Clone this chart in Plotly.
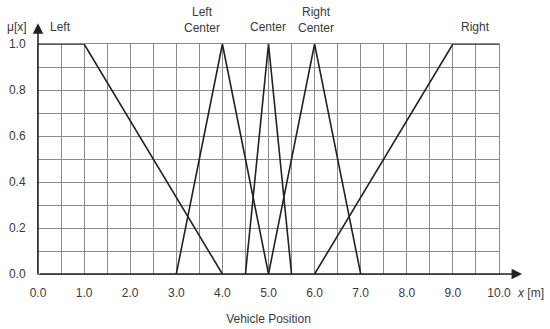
import plotly.graph_objects as go

# Membership functions (breakpoints)
left_x = [0, 1, 4]
left_y = [1, 1, 0]
lc_x = [3, 4, 5]
lc_y = [0, 1, 0]
c_x = [4.5, 5, 5.5]
c_y = [0, 1, 0]
rc_x = [5, 6, 7]
rc_y = [0, 1, 0]
right_x = [6, 9, 10]
right_y = [0, 1, 1]

x_ticks = [0, 1, 2, 3, 4, 5, 6, 7, 8, 9, 10]
x_labels = ["0.0", "1.0", "2.0", "3.0", "4.0", "5.0", "6.0", "7.0", "8.0", "9.0", "10.0"]
y_ticks = [0, 0.2, 0.4, 0.6, 0.8, 1.0]
y_labels = ["0.0", "0.2", "0.4", "0.6", "0.8", "1.0"]

# set labels: (text, x in data units, y in data units)
labels = [("Left", 0.48, 1.072), ("Left<br>Center", 3.56, 1.103), ("Center", 4.99, 1.072),
          ("Right<br>Center", 6.04, 1.103), ("Right", 9.5, 1.072)]

X_MAX = 10.0
FONT = "Liberation Sans, Arial, sans-serif"
TXT = "#3a3a3a"
GRID = "#8a8a8a"
FS = 12

fig = go.Figure()
for xs, ys in [(left_x, left_y), (lc_x, lc_y), (c_x, c_y), (rc_x, rc_y), (right_x, right_y)]:
    fig.add_trace(go.Scatter(x=xs, y=ys, mode="lines", line=dict(color="#222222", width=1.6),
                             cliponaxis=False, showlegend=False, hoverinfo="skip"))

fig.update_layout(
    width=550, height=329,
    margin=dict(l=38, r=51, t=44, b=55),
    paper_bgcolor="white", plot_bgcolor="white",
    font=dict(family=FONT, size=FS, color=TXT),
    xaxis=dict(range=[0, X_MAX], tickvals=x_ticks, ticktext=x_labels, showgrid=True,
               gridcolor=GRID, gridwidth=1, zeroline=False, automargin=False,
               minor=dict(dtick=0.5, tick0=0, showgrid=True, gridcolor=GRID, gridwidth=1),
               ticks="outside", ticklen=8, tickcolor="rgba(0,0,0,0)",
               showline=True, linecolor=GRID, linewidth=1, mirror=True,
               title=dict(text="Vehicle Position", standoff=15, font=dict(size=FS, color=TXT))),
    yaxis=dict(range=[0, 1], tickvals=y_ticks, ticktext=y_labels, showgrid=True,
               gridcolor=GRID, gridwidth=1, zeroline=False, automargin=False,
               minor=dict(dtick=0.1, tick0=0, showgrid=True, gridcolor=GRID, gridwidth=1),
               ticks="outside", ticklen=9, tickcolor="rgba(0,0,0,0)",
               showline=True, linecolor=GRID, linewidth=1, mirror=True),
)

# axis arrows (paper coords of plot area; offsets in pixels)
fig.add_annotation(x=1.05, y=0, xref="paper", yref="paper", ax=-484, ay=0,
                   axref="pixel", ayref="pixel",
                   text="", showarrow=True, arrowhead=2, arrowsize=1.4, arrowwidth=1.5,
                   arrowcolor="#222222")
fig.add_annotation(x=0, y=1.09, xref="paper", yref="paper", ax=0, ay=252,
                   axref="pixel", ayref="pixel",
                   text="", showarrow=True, arrowhead=2, arrowsize=1.4, arrowwidth=1.5,
                   arrowcolor="#222222")

for txt, xx, yy in labels:
    fig.add_annotation(x=xx / X_MAX, y=yy, xref="paper", yref="paper", text=txt, showarrow=False,
                       yanchor="middle", xanchor="center", font=dict(size=FS, color=TXT))

fig.add_annotation(x=-0.045, y=1.072, xref="paper", yref="paper", text="μ[x]", showarrow=False,
                   yanchor="middle", xanchor="center", font=dict(size=FS, color=TXT))
fig.add_annotation(x=1.069, y=-0.081, xref="paper", yref="paper", text="<i>x</i> [m]", showarrow=False,
                   yanchor="middle", xanchor="center", font=dict(size=FS, color=TXT))

fig.write_html("out.html", config={"displayModeBar": False},
               post_script="document.body.style.margin='0';document.body.style.overflow='hidden';")
